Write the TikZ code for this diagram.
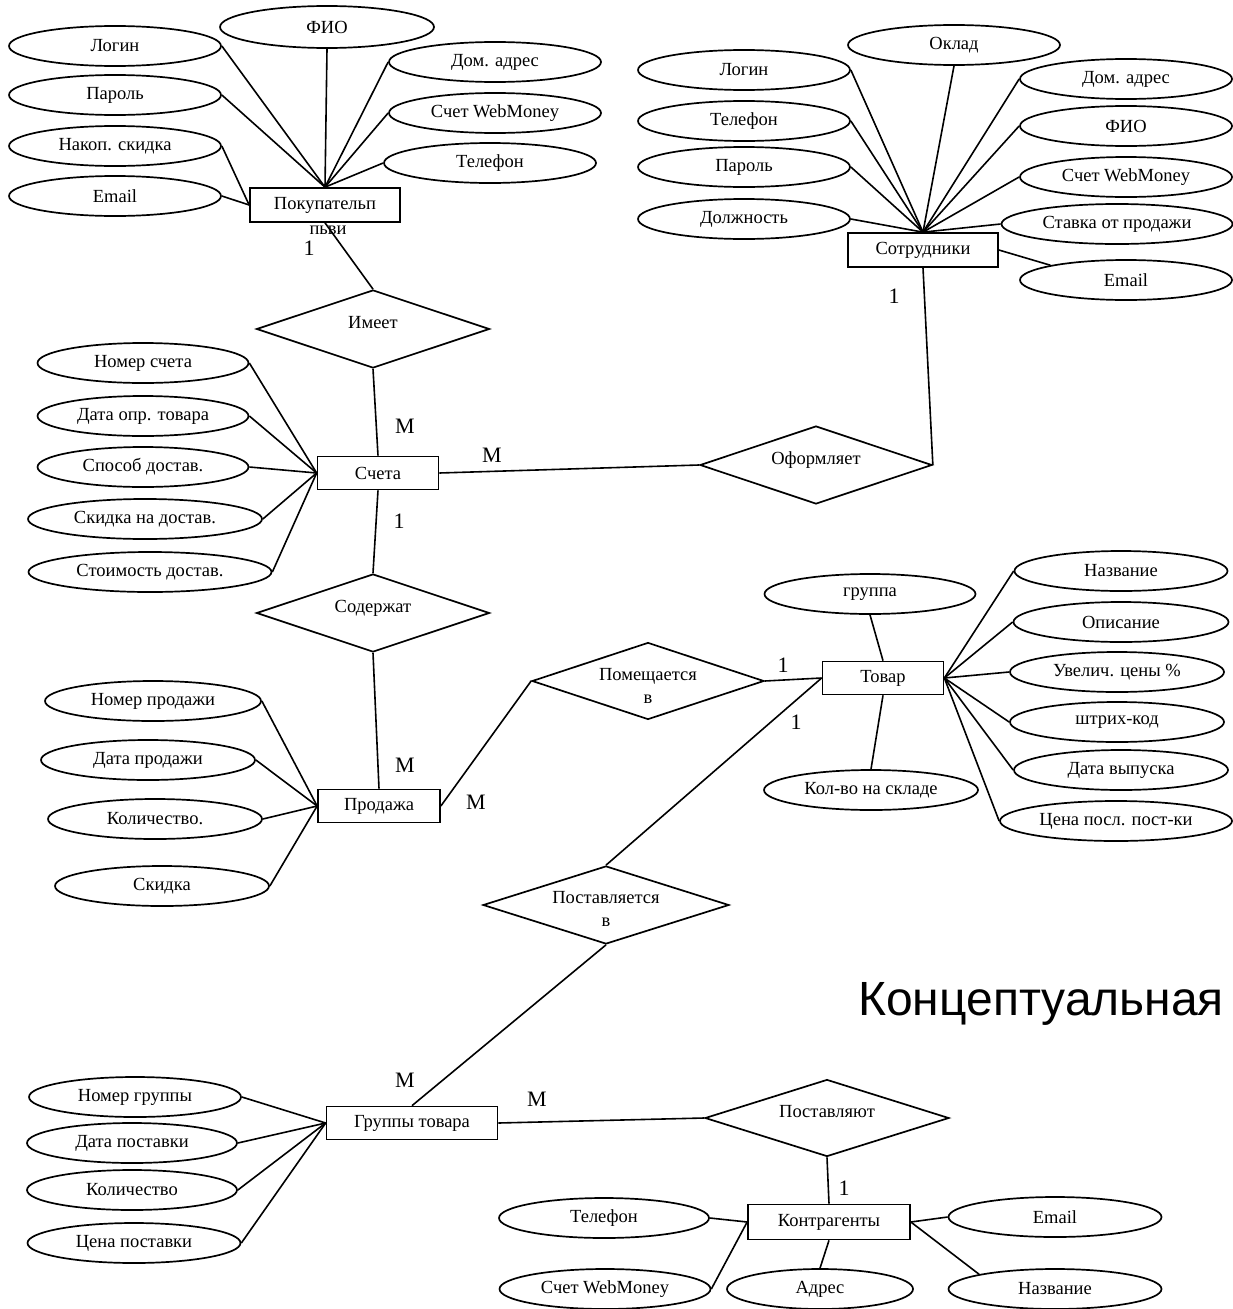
\documentclass[tikz,border=0pt]{standalone}
\usepackage{fontspec}
\setmainfont{Liberation Serif}
\newfontfamily\titlefont{Liberation Sans}
\usetikzlibrary{shapes.geometric}
\begin{document}
\begin{tikzpicture}[x=1pt,y=-1pt,
  txt/.style={font=\fontsize{18.5}{21}\selectfont},
  attr/.style={ellipse, draw, line width=1.7pt, minimum height=40pt, minimum width=212pt, inner sep=0pt, txt},
  ent/.style={rectangle, draw, line width=1.7pt, minimum width=120pt, minimum height=33pt, inner sep=0pt, txt},
  rel/.style={diamond, draw, line width=1.7pt, minimum width=233pt, minimum height=78pt, inner sep=0pt},
  rlab/.style={align=center, inner sep=0pt, txt, font=\fontsize{18.5}{23}\selectfont},
  conn/.style={line width=1.6pt},
  card/.style={inner sep=0pt, font=\fontsize{22}{24}\selectfont}]
\fill[white] (0,0) rectangle (1232,1309);
\useasboundingbox (0,0) rectangle (1232,1309);

% ---------- Покупатели ----------
\node[ent, minimum width=150pt, minimum height=34pt] (buyer) at (325,205) {\raisebox{-3pt}{Покупательп}};
\node[inner sep=0pt, txt] (buyerx) at (328,230) {пьви};
\node[attr] (b1) at (115,46) {Логин};
\node[attr, minimum width=214pt, minimum height=42pt] (b2) at (327,27) {ФИО};
\node[attr] (b3) at (115,95) {Пароль};
\node[attr] (b4) at (115,146) {Накоп. скидка};
\node[attr] (b5) at (115,196) {Email};
\node[attr] (b6) at (495,62) {Дом. адрес};
\node[attr] (b7) at (495,113) {Счет WebMoney};
\node[attr] (b8) at (490,163) {Телефон};
\draw[conn] (b1.east) -- (buyer.north);
\draw[conn] (b2.south) -- (buyer.north);
\draw[conn] (b3.east) -- (buyer.north);
\draw[conn] (b6.west) -- (buyer.north);
\draw[conn] (b7.west) -- (buyer.north);
\draw[conn] (b8.west) -- (buyer.north);
\draw[conn] (b4.east) -- (buyer.west);
\draw[conn] (b5.east) -- (buyer.west);

% ---------- Имеет ----------
\node[rel, label={[rlab, yshift=6pt]center:Имеет}] (has) at (373,329) {};
\draw[conn] (buyer.south) -- (has.north);
\node[card] (c1) at (309,248) {1};

% ---------- Счета ----------
\node[ent, minimum width=121pt] (inv) at (378,473) {\raisebox{-3pt}{Счета}};
\draw[conn] (has.south) -- (inv.north);
\node[card] (c2) at (405,426) {M};
\node[attr, minimum width=211pt] (i1) at (143,363) {Номер счета};
\node[attr, minimum width=211pt] (i2) at (143,416) {Дата опр. товара};
\node[attr, minimum width=211pt] (i3) at (143,467) {Способ достав.};
\node[attr, minimum width=234pt] (i4) at (145,519) {Скидка на достав.};
\node[attr, minimum width=243pt] (i5) at (150,572) {Стоимость достав.};
\foreach \a in {i1,i2,i3,i4,i5} \draw[conn] (\a.east) -- (inv.west);

% ---------- Сотрудники ----------
\node[ent, minimum width=150pt, minimum height=34pt] (emp) at (923,250) {\raisebox{-3pt}{Сотрудники}};
\node[attr] (e1) at (744,70) {Логин};
\node[attr] (e2) at (954,45) {Оклад};
\node[attr] (e3) at (744,121) {Телефон};
\node[attr] (e4) at (744,167) {Пароль};
\node[attr] (e5) at (744,219) {Должность};
\node[attr] (e6) at (1126,79) {Дом. адрес};
\node[attr] (e7) at (1126,126) {ФИО};
\node[attr] (e8) at (1126,177) {Счет WebMoney};
\node[attr, minimum width=231pt] (e9) at (1117,224) {Ставка от продажи};
\node[attr] (e10) at (1126,280) {Email};
\draw[conn] (e1.east) -- (emp.north);
\draw[conn] (e2.south) -- (emp.north);
\draw[conn] (e3.east) -- (emp.north);
\draw[conn] (e4.east) -- (emp.north);
\draw[conn] (e5.east) -- (emp.north);
\draw[conn] (e6.west) -- (emp.north);
\draw[conn] (e7.west) -- (emp.north);
\draw[conn] (e8.west) -- (emp.north);
\draw[conn] (e9.west) -- (emp.north);
\draw[conn] (emp.east) -- (e10.north west);

% ---------- Оформляет ----------
\node[rel, minimum width=232pt, label={[rlab, yshift=5pt]center:Оформляет}] (issue) at (816,465) {};
\draw[conn] (inv.east) -- (issue.west);
\draw[conn] (emp.south) -- (issue.east);
\node[card] (c3) at (492,455) {M};
\node[card] (c4) at (894,296) {1};

% ---------- Содержат ----------
\node[rel, label={[rlab, yshift=5pt]center:Содержат}] (cont) at (373,613) {};
\draw[conn] (inv.south) -- (cont.north);
\node[card] (c5) at (399,521) {1};

% ---------- Продажа ----------
\node[ent, minimum width=122pt] (sale) at (379,806) {\raisebox{-3pt}{Продажа}};
\draw[conn] (cont.south) -- (sale.north);
\node[card] (c6) at (405,765) {M};
\node[attr, minimum width=216pt] (s1) at (153,701) {Номер продажи};
\node[attr, minimum width=214pt] (s2) at (148,760) {Дата продажи};
\node[attr, minimum width=214pt] (s3) at (155,819) {Количество.};
\node[attr, minimum width=214pt] (s4) at (162,886) {Скидка};
\foreach \a in {s1,s2,s3,s4} \draw[conn] (\a.east) -- (sale.west);

% ---------- Товар ----------
\node[ent, minimum width=121pt] (prod) at (883,678) {\raisebox{-3pt}{Товар}};
\node[rel, minimum width=232pt, minimum height=77pt, label={[rlab, yshift=-5pt]center:Помещается\\в}] (put) at (648,681) {};
\draw[conn] (sale.east) -- (put.west);
\draw[conn] (put.east) -- (prod.west);
\node[card] (c7) at (476,802) {M};
\node[card] (c8) at (783,665) {1};
\node[attr, minimum width=211pt] (p0) at (870,594) {группа};
\node[attr, minimum width=214pt] (p9) at (871,790) {Кол-во на складе};
\draw[conn] (p0.south) -- (prod.north);
\draw[conn] (prod.south) -- (p9.north);
\node[attr, minimum width=213pt] (p1) at (1121,571) {Название};
\node[attr, minimum width=215pt] (p2) at (1121,622) {Описание};
\node[attr, minimum width=214pt] (p3) at (1117,672) {Увелич. цены \%};
\node[attr, minimum width=214pt] (p4) at (1117,722) {штрих-код};
\node[attr, minimum width=214pt] (p5) at (1121,770) {Дата выпуска};
\node[attr, minimum width=232pt] (p6) at (1116,821) {Цена посл. пост-ки};
\foreach \a in {p1,p2,p3,p4,p5,p6} \draw[conn] (prod.east) -- (\a.west);

% ---------- Поставляется в ----------
\node[rel, minimum width=246pt, label={[rlab, yshift=-4pt]center:Поставляется\\в}] (supin) at (606,905) {};
\draw[conn] (prod.west) -- (supin.north);
\node[card] (c9) at (796,722) {1};

% ---------- Группы товара ----------
\node[ent, minimum width=171pt] (grp) at (412,1123) {\raisebox{-3pt}{Группы товара}};
\draw[conn] (supin.south) -- (grp.north);
\node[card] (c10) at (405,1080) {M};
\node[attr, minimum width=212pt] (g1) at (135,1097) {Номер группы};
\node[attr, minimum width=210pt] (g2) at (132,1143) {Дата поставки};
\node[attr, minimum width=210pt] (g3) at (132,1190) {Количество};
\node[attr, minimum width=213pt] (g4) at (134,1243) {Цена поставки};
\foreach \a in {g1,g2,g3,g4} \draw[conn] (\a.east) -- (grp.west);

% ---------- Поставляют ----------
\node[rel, minimum width=244pt, minimum height=77pt, label={[rlab, yshift=6pt]center:Поставляют}] (sup) at (827,1118) {};
\draw[conn] (grp.east) -- (sup.west);
\node[card] (c11) at (537,1099) {M};

% ---------- Контрагенты ----------
\node[ent, minimum width=162pt, minimum height=35pt] (ctr) at (829,1222) {\raisebox{-3pt}{Контрагенты}};
\draw[conn] (sup.south) -- (ctr.north);
\node[card] (c12) at (844,1188) {1};
\node[attr, minimum width=210pt] (k1) at (604,1218) {Телефон};
\node[attr, minimum width=211pt] (k2) at (605,1289) {Счет WebMoney};
\node[attr, minimum width=186pt] (k3) at (820,1289) {Адрес};
\node[attr, minimum width=213pt] (k4) at (1055,1217) {Email};
\node[attr, minimum width=213pt] (k5) at (1055,1289) {Название};
\draw[conn] (k1.east) -- (ctr.west);
\draw[conn] (k2.east) -- (ctr.west);
\draw[conn] (k3.north) -- (ctr.south);
\draw[conn] (k4.west) -- (ctr.east);
\draw[conn] (k5.north west) -- (ctr.east);

% ---------- Title ----------
\node[anchor=base west, inner sep=0pt, font=\titlefont\fontsize{48}{50}\selectfont] (title) at (858,1015) {Концептуальная};
\end{tikzpicture}
\end{document}
